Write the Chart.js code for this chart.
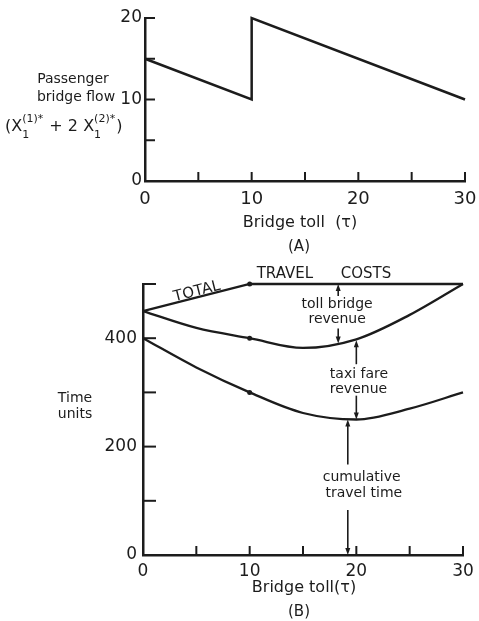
<!DOCTYPE html>
<html>
<head>
<meta charset="utf-8">
<script src="https://cdn.jsdelivr.net/npm/chart.js@4.4.0/dist/chart.umd.min.js"></script>
<style>
  html, body { margin: 0; padding: 0; background: #fff; }
  .wrap { position: relative; width: 479px; height: 621px; }
  #flowChart { position: absolute; left: 0; top: 0; }
  #costChart { position: absolute; left: 0; top: 260px; }
</style>
</head>
<body>
<div class="wrap">
  <canvas id="flowChart" width="479" height="260"></canvas>
  <canvas id="costChart" width="479" height="361"></canvas>
</div>
<script>
// (A) passenger bridge flow against bridge toll
const flowToll = [0, 10, 10, 30];
const flowValues = [15, 10, 20, 10];
const flowXLabels = [0, 10, 20, 30];
const flowYLabels = [0, 10, 20];

// (B) travel costs against bridge toll
const totalToll = [0, 10, 30];
const totalCosts = [450, 500, 500];
const curveToll = [0, 5, 10, 15, 20, 25, 30];
const timePlusTaxi = [450, 419, 400, 382, 398, 443, 500];
const travelTime = [400, 346, 300, 262, 250, 270, 300];
const costXLabels = [0, 10, 20, 30];
const costYLabels = [0, 200, 400];

const ink = '#1c1c1c';
const family = "'DejaVu Sans', sans-serif";

function pairs(xs, ys) {
    return xs.map(function (x, i) { return { x: x, y: ys[i] }; });
}

// tick marks drawn pointing into the plot, like the original
const inwardTicks = {
    id: 'inTicks',
    afterDatasetsDraw: function (chart, args, opts) {
        const ctx = chart.ctx;
        const xs = chart.scales.x, ys = chart.scales.y;
        ctx.save();
        ctx.strokeStyle = ink;
        ctx.lineWidth = 2;
        xs.ticks.forEach(function (t) {
            if (t.value === xs.min) return;
            const px = xs.getPixelForValue(t.value);
            ctx.beginPath();
            ctx.moveTo(px, ys.bottom);
            ctx.lineTo(px, ys.bottom - opts.x);
            ctx.stroke();
        });
        ys.ticks.forEach(function (t) {
            if (t.value === ys.min) return;
            const py = ys.getPixelForValue(t.value);
            ctx.beginPath();
            ctx.moveTo(xs.left, py);
            ctx.lineTo(xs.left + opts.y, py);
            ctx.stroke();
        });
        ctx.restore();
    }
};

function text(ctx, s, x, y, size, align) {
    ctx.font = size + 'px ' + family;
    ctx.textAlign = align || 'center';
    ctx.textBaseline = 'middle';
    ctx.fillText(s, x, y);
}

function arrow(ctx, x, y0, y1) {
    // shaft from y0 to y1, head at y1
    const dir = y1 > y0 ? 1 : -1;
    ctx.beginPath();
    ctx.moveTo(x, y0);
    ctx.lineTo(x, y1 - dir * 4);
    ctx.stroke();
    ctx.beginPath();
    ctx.moveTo(x, y1);
    ctx.lineTo(x - 2.5, y1 - dir * 7);
    ctx.lineTo(x + 2.5, y1 - dir * 7);
    ctx.closePath();
    ctx.fill();
}

function axisOpts(min, max, step, labels, size, pad, fit) {
    return {
        type: 'linear', min: min, max: max,
        grid: { display: false, drawTicks: false },
        border: { color: ink, width: 2.5 },
        ticks: {
            stepSize: step, padding: pad, color: ink, autoSkip: false, maxRotation: 0,
            font: { family: family, size: size },
            callback: function (v) { return labels.includes(v) ? String(v) : ''; }
        },
        afterFit: function (s) {
            fit(s);
            s.paddingLeft = 0; s.paddingRight = 0;
            s.paddingTop = 0; s.paddingBottom = 0;
        }
    };
}

// ---------- chart A ----------
const flowNotes = {
    id: 'flowNotes',
    afterDraw: function (chart) {
        const ctx = chart.ctx;
        ctx.save();
        ctx.fillStyle = ink;
        text(ctx, 'Passenger', 73, 79, 14);
        text(ctx, 'bridge flow', 76, 97, 14);
        // (X1(1)* + 2 X1(2)*)
        let x = 5;
        const base = 126;
        const runs = [
            ['(X', null, null], ['1', '(1)*'], [' + 2 X', null, null], ['1', '(2)*'], [')', null, null]
        ];
        ctx.textAlign = 'left';
        ctx.textBaseline = 'alphabetic';
        runs.forEach(function (r) {
            if (r.length === 3) {
                ctx.font = '16px ' + family;
                ctx.fillText(r[0], x, base + 5);
                x += ctx.measureText(r[0]).width;
            } else {
                ctx.font = '11px ' + family;
                ctx.fillText(r[0], x, base + 12);
                ctx.fillText(r[1], x, base - 4);
                x += Math.max(ctx.measureText(r[0]).width, ctx.measureText(r[1]).width) + 1;
            }
        });
        text(ctx, 'Bridge toll  (\u03C4)', 300, 223, 16);
        text(ctx, '(A)', 299, 247, 15);
        ctx.restore();
    }
};

new Chart(document.getElementById('flowChart'), {
    type: 'line',
    data: {
        datasets: [{
            data: pairs(flowToll, flowValues),
            borderColor: ink,
            borderWidth: 2.5,
            pointRadius: 0,
            tension: 0,
            clip: false
        }]
    },
    options: {
        responsive: false,
        animation: false,
        devicePixelRatio: 1,
        layout: { padding: { top: 18, right: 14, left: 0, bottom: 0 } },
        plugins: { legend: { display: false }, tooltip: { enabled: false }, inTicks: { x: 9, y: 10 } },
        scales: {
            x: axisOpts(0, 30, 5, flowXLabels, 18, 8, function (s) { s.height = 79; }),
            y: axisOpts(0, 20, 5, flowYLabels, 17, 3, function (s) { s.width = 145; })
        }
    },
    plugins: [inwardTicks, flowNotes]
});

// ---------- chart B ----------
const costNotes = [
    { text: 'TRAVEL', x: 13.3, y: 518, size: 15 },
    { text: 'COSTS', x: 20.9, y: 518, size: 15 },
    { text: 'toll bridge', x: 18.2, y: 463, size: 14 },
    { text: 'revenue', x: 18.2, y: 435, size: 14 },
    { text: 'taxi fare', x: 20.25, y: 333, size: 14 },
    { text: 'revenue', x: 20.2, y: 306, size: 14 },
    { text: 'cumulative', x: 20.5, y: 144, size: 14 },
    { text: 'travel time', x: 20.7, y: 113, size: 14 }
];
// [toll, tail value, head value]
const costArrows = [
    [18.3, 478, 500], [18.3, 418, 390],
    [20.0, 352, 396], [20.0, 294, 250],
    [19.2, 167, 250], [19.2, 83, 0]
];

const costLabels = {
    id: 'costLabels',
    afterDraw: function (chart) {
        const ctx = chart.ctx;
        const xs = chart.scales.x, ys = chart.scales.y;
        ctx.save();
        ctx.fillStyle = ink;
        ctx.strokeStyle = ink;
        ctx.lineWidth = 1.6;
        costNotes.forEach(function (n) {
            text(ctx, n.text, xs.getPixelForValue(n.x), ys.getPixelForValue(n.y), n.size);
        });
        costArrows.forEach(function (a) {
            arrow(ctx, xs.getPixelForValue(a[0]), ys.getPixelForValue(a[1]), ys.getPixelForValue(a[2]));
        });
        // TOTAL follows the rising cost line
        const ang = Math.atan2(ys.getPixelForValue(totalCosts[1]) - ys.getPixelForValue(totalCosts[0]),
            xs.getPixelForValue(totalToll[1]) - xs.getPixelForValue(totalToll[0]));
        ctx.translate(xs.getPixelForValue(5.06), ys.getPixelForValue(486));
        ctx.rotate(ang);
        text(ctx, 'TOTAL', 0, 0, 15);
        ctx.setTransform(1, 0, 0, 1, 0, 0);
        text(ctx, 'Time', 75, 138, 14);
        text(ctx, 'units', 75, 154, 14);
        text(ctx, 'Bridge toll(\u03C4)', 304, 328, 16);
        text(ctx, '(B)', 299, 352, 15);
        ctx.restore();
    }
};

const curveStyle = {
    borderColor: ink,
    borderWidth: 2.3,
    pointBackgroundColor: ink,
    pointBorderWidth: 0,
    pointRadius: function (c) { return c.raw && c.raw.x === 10 ? 2.5 : 0; },
    clip: false
};

new Chart(document.getElementById('costChart'), {
    type: 'line',
    data: {
        datasets: [
            Object.assign({ data: pairs(totalToll, totalCosts), tension: 0 }, curveStyle),
            Object.assign({ data: pairs(curveToll, timePlusTaxi), cubicInterpolationMode: 'monotone' }, curveStyle),
            Object.assign({ data: pairs(curveToll, travelTime), cubicInterpolationMode: 'monotone' }, curveStyle)
        ]
    },
    options: {
        responsive: false,
        animation: false,
        devicePixelRatio: 1,
        layout: { padding: { top: 24, right: 16, left: 0, bottom: 0 } },
        plugins: { legend: { display: false }, tooltip: { enabled: false }, inTicks: { x: 9, y: 13 } },
        scales: {
            x: axisOpts(0, 30, 5, costXLabels, 17, 6, function (s) { s.height = 66; }),
            y: axisOpts(0, 500, 100, costYLabels, 17, 6, function (s) { s.width = 143; })
        }
    },
    plugins: [inwardTicks, costLabels]
});
</script>
</body>
</html>
